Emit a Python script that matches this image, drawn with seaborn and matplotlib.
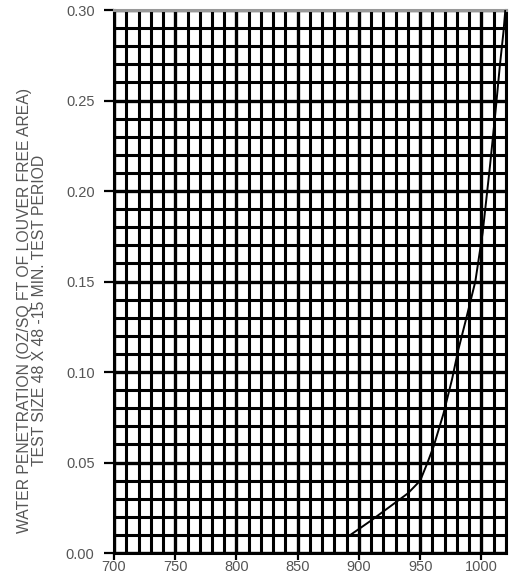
import numpy as np
import pandas as pd
import matplotlib
matplotlib.use("Agg")
import matplotlib.pyplot as plt
from matplotlib.ticker import MultipleLocator
import seaborn as sns

# Curve: wind velocity (fpm) vs water penetration
velocity = [893, 910, 928, 940, 950, 956, 961, 969, 976, 981, 987, 995,
            1001, 1007, 1011.5, 1015, 1018, 1019.5]
penetration = [0.010, 0.018, 0.027, 0.033, 0.040, 0.050, 0.059, 0.077, 0.096,
               0.112, 0.128, 0.150, 0.177, 0.214, 0.244, 0.269, 0.288, 0.300]

x_ticks = [700, 750, 800, 850, 900, 950, 1000]
y_ticks = [0.00, 0.05, 0.10, 0.15, 0.20, 0.25, 0.30]
y_label = ("WATER PENETRATION (OZ/SQ FT OF LOUVER FREE AREA)\n"
           "TEST SIZE 48 X 48 -15 MIN. TEST PERIOD")

df = pd.DataFrame({"velocity": velocity, "penetration": penetration})

sns.set_style("white")
plt.rcParams['font.family'] = ['Liberation Sans', 'DejaVu Sans']

fig = plt.figure(figsize=(5.15, 5.76), dpi=100)
ax = fig.add_axes([0.2214, 0.0399, 0.761, 0.9427])

sns.lineplot(data=df, x="velocity", y="penetration", ax=ax,
             color="black", linewidth=1.4, zorder=5)

ax.set_xlim(700, 1020)
ax.set_ylim(0, 0.30)
ax.set_xticks(x_ticks)
ax.set_xticklabels([str(v) for v in x_ticks])
ax.set_yticks(y_ticks)
ax.set_yticklabels([f"{v:.2f}" for v in y_ticks])
ax.xaxis.set_minor_locator(MultipleLocator(10))
ax.yaxis.set_minor_locator(MultipleLocator(0.01))

# dense graph-paper grid
ax.grid(which="major", color="black", linewidth=2.4)
ax.grid(which="minor", color="black", linewidth=2.2)
ax.set_axisbelow(True)

for s in ax.spines.values():
    s.set_color("black")
    s.set_linewidth(2.2)
ax.spines["top"].set_color("#999999")

ax.tick_params(which="major", length=7, width=1.6, color="black",
               labelsize=10.5, labelcolor="#555555", direction="out",
               left=True, bottom=True, pad=7)
ax.tick_params(axis="x", which="major", length=5, pad=0)
ax.tick_params(which="minor", length=0)

ax.set_xlabel("")
ax.set_ylabel(y_label, fontsize=11.3, color="#555555", linespacing=1.05)
ax.yaxis.set_label_coords(-0.17, 0.446)

fig.savefig("out.png", dpi=100)
